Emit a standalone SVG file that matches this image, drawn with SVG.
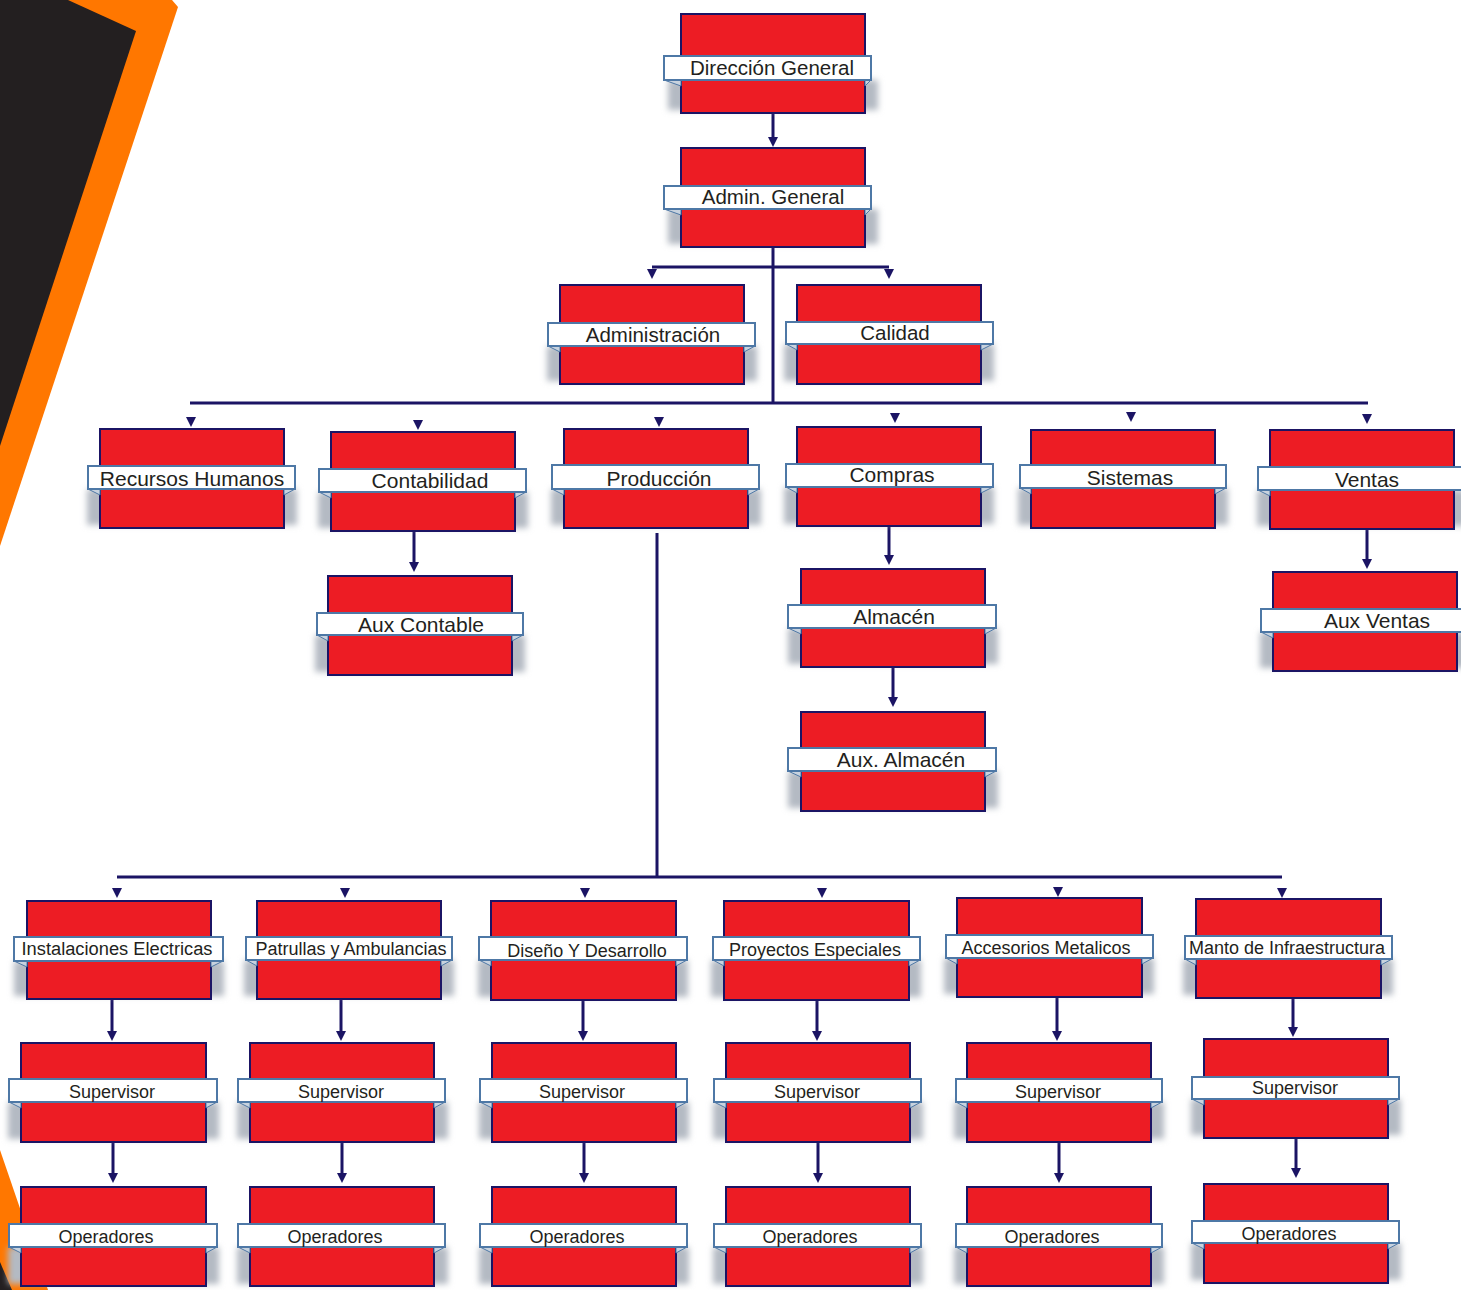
<svg xmlns="http://www.w3.org/2000/svg" xmlns:xlink="http://www.w3.org/1999/xlink" width="1461" height="1290" viewBox="0 0 1461 1290">
<defs>
<filter id="blur" x="-20%" y="-40%" width="140%" height="180%"><feGaussianBlur stdDeviation="3"/></filter>
<path id="ah" d="M-5,-10 L5,-10 L0,0 Z" fill="#1B1464"/>
<style>
.box{fill:#ED1C24;stroke:#1B1464;stroke-width:2}
.sh{fill:#b4bac3;filter:url(#blur)}
.lbl{fill:#ffffff;stroke:#4E78A6;stroke-width:2}
.fold{fill:#c8d2de;stroke:#4E78A6;stroke-width:1}
.t{font-family:"Liberation Sans",Arial,sans-serif;fill:#231F20;text-anchor:middle}
.t20{font-size:20.5px}
.t21{font-size:21px}
.t18{font-size:18px}
.ln{stroke:#1B1464;stroke-width:3;fill:none}
</style>
</defs>
<rect width="1461" height="1290" fill="#ffffff"/>
<g id="decor">
<polygon points="0,0 172,0 178,7 0,546" fill="#FF7700"/>
<polygon points="0,0 68,0 136,31 0,446" fill="#231F20"/>
<polygon points="0,1150 48,1290 0,1290" fill="#FF7700"/>
<polygon points="0,1262 12,1290 0,1290" fill="#231F20"/>
</g>
<g id="connectors">
<line class="ln" x1="773" y1="113" x2="773" y2="138"/><use xlink:href="#ah" x="773" y="147"/>
<line class="ln" x1="773" y1="247" x2="773" y2="404"/>
<line class="ln" x1="652" y1="267" x2="889" y2="267"/>
<use xlink:href="#ah" x="652" y="279"/><use xlink:href="#ah" x="889" y="279"/>
<line class="ln" x1="190" y1="403" x2="1368" y2="403"/>
<use xlink:href="#ah" x="191" y="427"/><use xlink:href="#ah" x="418" y="430"/><use xlink:href="#ah" x="659" y="427"/>
<use xlink:href="#ah" x="895" y="423"/><use xlink:href="#ah" x="1131" y="422"/><use xlink:href="#ah" x="1367" y="424"/>
<line class="ln" x1="414" y1="531" x2="414" y2="563"/><use xlink:href="#ah" x="414" y="572"/>
<line class="ln" x1="889" y1="527" x2="889" y2="556"/><use xlink:href="#ah" x="889" y="565"/>
<line class="ln" x1="893" y1="667" x2="893" y2="698"/><use xlink:href="#ah" x="893" y="707"/>
<line class="ln" x1="1367" y1="529" x2="1367" y2="560"/><use xlink:href="#ah" x="1367" y="569"/>
<line class="ln" x1="657" y1="533" x2="657" y2="878"/>
<line class="ln" x1="117" y1="877" x2="1282" y2="877"/>
<use xlink:href="#ah" x="117" y="898"/><use xlink:href="#ah" x="345" y="898"/><use xlink:href="#ah" x="585" y="898"/>
<use xlink:href="#ah" x="822" y="898"/><use xlink:href="#ah" x="1058" y="897"/><use xlink:href="#ah" x="1282" y="898"/>
<line class="ln" x1="112" y1="999" x2="112" y2="1032"/><use xlink:href="#ah" x="112" y="1041"/>
<line class="ln" x1="341" y1="999" x2="341" y2="1032"/><use xlink:href="#ah" x="341" y="1041"/>
<line class="ln" x1="583" y1="1000" x2="583" y2="1032"/><use xlink:href="#ah" x="583" y="1041"/>
<line class="ln" x1="817" y1="1000" x2="817" y2="1032"/><use xlink:href="#ah" x="817" y="1041"/>
<line class="ln" x1="1057" y1="997" x2="1057" y2="1032"/><use xlink:href="#ah" x="1057" y="1041"/>
<line class="ln" x1="1293" y1="998" x2="1293" y2="1028"/><use xlink:href="#ah" x="1293" y="1037"/>
<line class="ln" x1="113" y1="1142" x2="113" y2="1174"/><use xlink:href="#ah" x="113" y="1183"/>
<line class="ln" x1="342" y1="1142" x2="342" y2="1174"/><use xlink:href="#ah" x="342" y="1183"/>
<line class="ln" x1="584" y1="1142" x2="584" y2="1174"/><use xlink:href="#ah" x="584" y="1183"/>
<line class="ln" x1="818" y1="1142" x2="818" y2="1174"/><use xlink:href="#ah" x="818" y="1183"/>
<line class="ln" x1="1059" y1="1142" x2="1059" y2="1174"/><use xlink:href="#ah" x="1059" y="1183"/>
<line class="ln" x1="1296" y1="1138" x2="1296" y2="1169"/><use xlink:href="#ah" x="1296" y="1178"/>
</g>

<g id="n-direccion"><rect class="sh" x="668" y="80" width="210" height="30"/><rect class="box" x="681" y="14" width="184" height="99"/><path class="fold" d="M664,80 L681,80 L681,86 Z M871,80 L865,80 L865,86 Z"/><rect class="lbl" x="664" y="56" width="207" height="24"/><text class="t t20" x="772" y="75">Dirección General</text></g>
<g id="n-admingeneral"><rect class="sh" x="668" y="209" width="210" height="35"/><rect class="box" x="681" y="148" width="184" height="99"/><path class="fold" d="M664,209 L681,209 L681,215 Z M871,209 L865,209 L865,215 Z"/><rect class="lbl" x="664" y="186" width="207" height="23"/><text class="t t20" x="773" y="204">Admin. General</text></g>
<g id="n-administracion"><rect class="sh" x="547" y="346" width="210" height="35"/><rect class="box" x="560" y="285" width="184" height="99"/><path class="fold" d="M548,346 L560,346 L560,352 Z M755,346 L744,346 L744,352 Z"/><rect class="lbl" x="548" y="323" width="207" height="23"/><text class="t t20" x="653" y="342">Administración</text></g>
<g id="n-calidad"><rect class="sh" x="784" y="344" width="210" height="37"/><rect class="box" x="797" y="285" width="184" height="99"/><path class="fold" d="M786,344 L797,344 L797,350 Z M993,344 L981,344 L981,350 Z"/><rect class="lbl" x="786" y="322" width="207" height="22"/><text class="t t20" x="895" y="340">Calidad</text></g>

<g id="n-rrhh"><rect class="sh" x="87" y="489" width="210" height="36"/><rect class="box" x="100" y="429" width="184" height="99"/><path class="fold" d="M88,489 L100,489 L100,495 Z M295,489 L284,489 L284,495 Z"/><rect class="lbl" x="88" y="466" width="207" height="23"/><text class="t t21" x="192" y="486">Recursos Humanos</text></g>
<g id="n-contabilidad"><rect class="sh" x="318" y="492" width="210" height="36"/><rect class="box" x="331" y="432" width="184" height="99"/><path class="fold" d="M319,492 L331,492 L331,498 Z M526,492 L515,492 L515,498 Z"/><rect class="lbl" x="319" y="469" width="207" height="23"/><text class="t t21" x="430" y="488">Contabilidad</text></g>
<g id="n-produccion"><rect class="sh" x="551" y="489" width="210" height="36"/><rect class="box" x="564" y="429" width="184" height="99"/><path class="fold" d="M552,489 L564,489 L564,495 Z M759,489 L748,489 L748,495 Z"/><rect class="lbl" x="552" y="465" width="207" height="24"/><text class="t t21" x="659" y="486">Producción</text></g>
<g id="n-compras"><rect class="sh" x="784" y="487" width="210" height="37"/><rect class="box" x="797" y="427" width="184" height="99"/><path class="fold" d="M786,487 L797,487 L797,493 Z M993,487 L981,487 L981,493 Z"/><rect class="lbl" x="786" y="464" width="207" height="23"/><text class="t t21" x="892" y="482">Compras</text></g>
<g id="n-sistemas"><rect class="sh" x="1018" y="488" width="210" height="37"/><rect class="box" x="1031" y="430" width="184" height="98"/><path class="fold" d="M1020,488 L1031,488 L1031,494 Z M1226,488 L1215,488 L1215,494 Z"/><rect class="lbl" x="1020" y="465" width="206" height="23"/><text class="t t21" x="1130" y="485">Sistemas</text></g>
<g id="n-ventas"><rect class="sh" x="1257" y="490" width="210" height="36"/><rect class="box" x="1270" y="430" width="184" height="99"/><path class="fold" d="M1258,490 L1270,490 L1270,496 Z"/><rect class="lbl" x="1258" y="467" width="207" height="23"/><text class="t t21" x="1367" y="487">Ventas</text></g>
<g id="n-auxcontable"><rect class="sh" x="315" y="635" width="210" height="37"/><rect class="box" x="328" y="576" width="184" height="99"/><path class="fold" d="M317,635 L328,635 L328,641 Z M523,635 L512,635 L512,641 Z"/><rect class="lbl" x="317" y="613" width="206" height="22"/><text class="t t21" x="421" y="632">Aux Contable</text></g>
<g id="n-almacen"><rect class="sh" x="788" y="628" width="210" height="36"/><rect class="box" x="801" y="569" width="184" height="98"/><path class="fold" d="M788,628 L801,628 L801,634 Z M996,628 L985,628 L985,634 Z"/><rect class="lbl" x="788" y="605" width="208" height="23"/><text class="t t21" x="894" y="624">Almacén</text></g>
<g id="n-auxalmacen"><rect class="sh" x="788" y="771" width="210" height="37"/><rect class="box" x="801" y="712" width="184" height="99"/><path class="fold" d="M788,771 L801,771 L801,777 Z M996,771 L985,771 L985,777 Z"/><rect class="lbl" x="788" y="748" width="208" height="23"/><text class="t t21" x="901" y="767">Aux. Almacén</text></g>
<g id="n-auxventas"><rect class="sh" x="1260" y="632" width="210" height="36"/><rect class="box" x="1273" y="572" width="184" height="99"/><path class="fold" d="M1261,632 L1273,632 L1273,638 Z"/><rect class="lbl" x="1261" y="609" width="207" height="23"/><text class="t t21" x="1377" y="628">Aux Ventas</text></g>

<g id="n-instalaciones"><rect class="sh" x="14" y="961" width="210" height="35"/><rect class="box" x="27" y="901" width="184" height="98"/><path class="fold" d="M14,961 L27,961 L27,967 Z M223,961 L211,961 L211,967 Z"/><rect class="lbl" x="14" y="937" width="209" height="24"/><text class="t t18" x="117" y="955" textLength="191" lengthAdjust="spacingAndGlyphs">Instalaciones Electricas</text></g>
<g id="n-patrullas"><rect class="sh" x="244" y="960" width="210" height="36"/><rect class="box" x="257" y="901" width="184" height="98"/><path class="fold" d="M246,960 L257,960 L257,966 Z M452,960 L441,960 L441,966 Z"/><rect class="lbl" x="246" y="937" width="206" height="23"/><text class="t t18" x="351" y="955">Patrullas y Ambulancias</text></g>
<g id="n-diseno"><rect class="sh" x="478" y="960" width="210" height="37"/><rect class="box" x="491" y="901" width="185" height="99"/><path class="fold" d="M479,960 L491,960 L491,966 Z M687,960 L676,960 L676,966 Z"/><rect class="lbl" x="479" y="937" width="208" height="23"/><text class="t t18" x="587" y="957">Diseño Y Desarrollo</text></g>
<g id="n-proyectos"><rect class="sh" x="711" y="960" width="210" height="37"/><rect class="box" x="724" y="901" width="185" height="99"/><path class="fold" d="M713,960 L724,960 L724,966 Z M920,960 L909,960 L909,966 Z"/><rect class="lbl" x="713" y="937" width="207" height="23"/><text class="t t18" x="815" y="956">Proyectos Especiales</text></g>
<g id="n-accesorios"><rect class="sh" x="944" y="958" width="210" height="36"/><rect class="box" x="957" y="898" width="185" height="99"/><path class="fold" d="M946,958 L957,958 L957,964 Z M1153,958 L1142,958 L1142,964 Z"/><rect class="lbl" x="946" y="935" width="207" height="23"/><text class="t t18" x="1046" y="954">Accesorios Metalicos</text></g>
<g id="n-manto"><rect class="sh" x="1183" y="959" width="210" height="36"/><rect class="box" x="1196" y="899" width="185" height="99"/><path class="fold" d="M1185,959 L1196,959 L1196,965 Z M1392,959 L1381,959 L1381,965 Z"/><rect class="lbl" x="1185" y="936" width="207" height="23"/><text class="t t18" x="1287" y="954">Manto de Infraestructura</text></g>

<g id="n-sup1"><rect class="sh" x="8" y="1102" width="211" height="37"/><rect class="box" x="21" y="1043" width="185" height="99"/><path class="fold" d="M9,1102 L21,1102 L21,1108 Z M217,1102 L206,1102 L206,1108 Z"/><rect class="lbl" x="9" y="1079" width="208" height="23"/><text class="t t18" x="112" y="1098">Supervisor</text></g>
<g id="n-sup2"><rect class="sh" x="237" y="1102" width="211" height="37"/><rect class="box" x="250" y="1043" width="184" height="99"/><path class="fold" d="M238,1102 L250,1102 L250,1108 Z M445,1102 L434,1102 L434,1108 Z"/><rect class="lbl" x="238" y="1079" width="207" height="23"/><text class="t t18" x="341" y="1098">Supervisor</text></g>
<g id="n-sup3"><rect class="sh" x="479" y="1102" width="210" height="37"/><rect class="box" x="492" y="1043" width="184" height="99"/><path class="fold" d="M480,1102 L492,1102 L492,1108 Z M687,1102 L676,1102 L676,1108 Z"/><rect class="lbl" x="480" y="1079" width="207" height="23"/><text class="t t18" x="582" y="1098">Supervisor</text></g>
<g id="n-sup4"><rect class="sh" x="713" y="1102" width="210" height="37"/><rect class="box" x="726" y="1043" width="184" height="99"/><path class="fold" d="M714,1102 L726,1102 L726,1108 Z M921,1102 L910,1102 L910,1108 Z"/><rect class="lbl" x="714" y="1079" width="207" height="23"/><text class="t t18" x="817" y="1098">Supervisor</text></g>
<g id="n-sup5"><rect class="sh" x="954" y="1102" width="210" height="37"/><rect class="box" x="967" y="1043" width="184" height="99"/><path class="fold" d="M956,1102 L967,1102 L967,1108 Z M1162,1102 L1151,1102 L1151,1108 Z"/><rect class="lbl" x="956" y="1079" width="206" height="23"/><text class="t t18" x="1058" y="1098">Supervisor</text></g>
<g id="n-sup6"><rect class="sh" x="1191" y="1099" width="210" height="36"/><rect class="box" x="1204" y="1039" width="184" height="99"/><path class="fold" d="M1192,1099 L1204,1099 L1204,1105 Z M1399,1099 L1388,1099 L1388,1105 Z"/><rect class="lbl" x="1192" y="1077" width="207" height="22"/><text class="t t18" x="1295" y="1094">Supervisor</text></g>

<g id="n-op1"><rect class="sh" x="8" y="1247" width="211" height="37"/><rect class="box" x="21" y="1187" width="185" height="99"/><path class="fold" d="M9,1247 L21,1247 L21,1253 Z M217,1247 L206,1247 L206,1253 Z"/><rect class="lbl" x="9" y="1224" width="208" height="23"/><text class="t t18" x="106" y="1243">Operadores</text></g>
<g id="n-op2"><rect class="sh" x="237" y="1247" width="211" height="37"/><rect class="box" x="250" y="1187" width="184" height="99"/><path class="fold" d="M238,1247 L250,1247 L250,1253 Z M445,1247 L434,1247 L434,1253 Z"/><rect class="lbl" x="238" y="1224" width="207" height="23"/><text class="t t18" x="335" y="1243">Operadores</text></g>
<g id="n-op3"><rect class="sh" x="479" y="1247" width="210" height="37"/><rect class="box" x="492" y="1187" width="184" height="99"/><path class="fold" d="M480,1247 L492,1247 L492,1253 Z M687,1247 L676,1247 L676,1253 Z"/><rect class="lbl" x="480" y="1224" width="207" height="23"/><text class="t t18" x="577" y="1243">Operadores</text></g>
<g id="n-op4"><rect class="sh" x="713" y="1247" width="210" height="37"/><rect class="box" x="726" y="1187" width="184" height="99"/><path class="fold" d="M714,1247 L726,1247 L726,1253 Z M921,1247 L910,1247 L910,1253 Z"/><rect class="lbl" x="714" y="1224" width="207" height="23"/><text class="t t18" x="810" y="1243">Operadores</text></g>
<g id="n-op5"><rect class="sh" x="954" y="1247" width="210" height="37"/><rect class="box" x="967" y="1187" width="184" height="99"/><path class="fold" d="M956,1247 L967,1247 L967,1253 Z M1162,1247 L1151,1247 L1151,1253 Z"/><rect class="lbl" x="956" y="1224" width="206" height="23"/><text class="t t18" x="1052" y="1243">Operadores</text></g>
<g id="n-op6"><rect class="sh" x="1191" y="1243" width="210" height="37"/><rect class="box" x="1204" y="1184" width="184" height="99"/><path class="fold" d="M1192,1243 L1204,1243 L1204,1249 Z M1399,1243 L1388,1243 L1388,1249 Z"/><rect class="lbl" x="1192" y="1221" width="207" height="22"/><text class="t t18" x="1289" y="1240">Operadores</text></g>
</svg>
